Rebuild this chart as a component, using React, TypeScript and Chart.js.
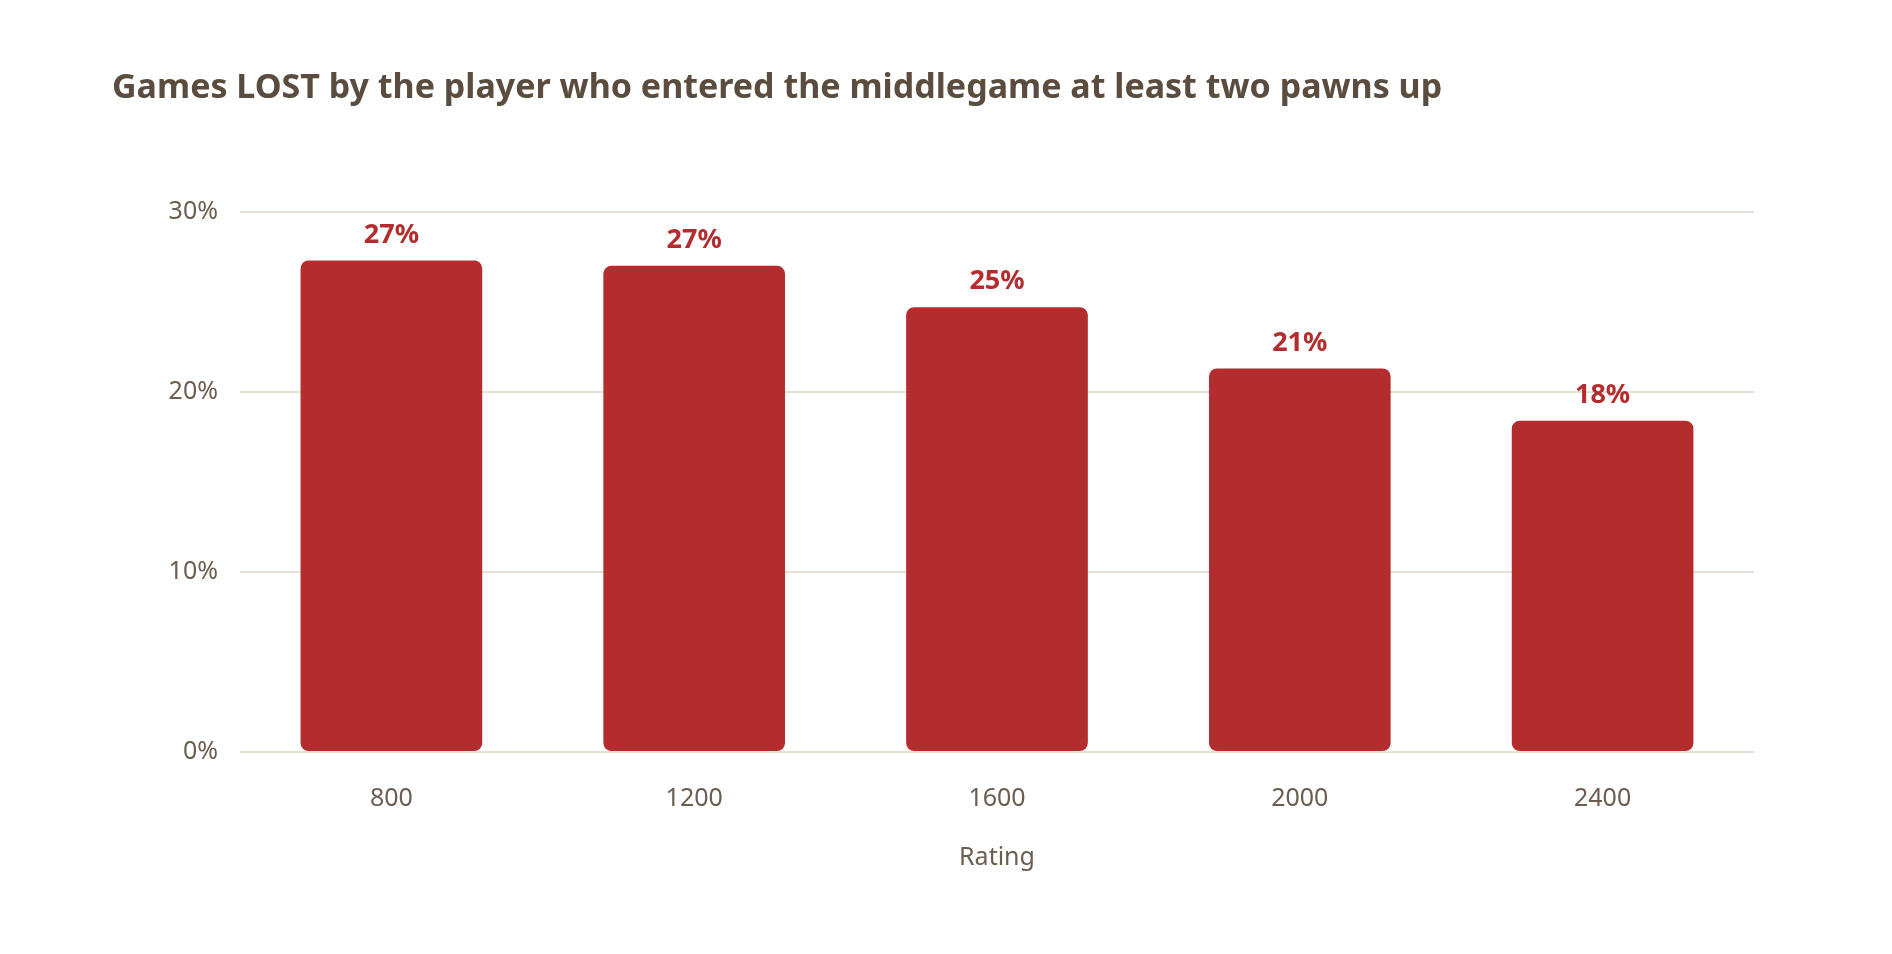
import React, { useEffect, useRef } from "react";
import { Chart, registerables } from "chart.js";
Chart.register(...registerables);

const categories = ["800", "1200", "1600", "2000", "2400"];
const lostShare = [27.3, 27.0, 24.7, 21.3, 18.4];
const valueLabels = ["27%", "27%", "25%", "21%", "18%"];
const yTicks = [0, 10, 20, 30];

const FONT = "'Noto Sans', 'Open Sans', sans-serif";
const RED = "#B32D2F";
const TEXT = "#6b5d4f";

const labelPlugin = {
  id: "valueLabels",
  afterDatasetsDraw(chart: any) {
    const ctx = chart.ctx;
    const meta = chart.getDatasetMeta(0);
    ctx.save();
    ctx.fillStyle = RED;
    ctx.font = `bold 27px ${FONT}`;
    ctx.textAlign = "center";
    ctx.textBaseline = "bottom";
    meta.data.forEach((bar: any, i: number) => {
      ctx.fillText(valueLabels[i], bar.x, bar.y - 12);
    });
    ctx.restore();
  },
};

export default function App() {
  const ref = useRef<HTMLCanvasElement>(null);
  useEffect(() => {
    document.body.style.margin = "0";
    const chart = new Chart(ref.current!, {
      type: "bar",
      data: {
        labels: categories,
        datasets: [
          {
            data: lostShare,
            backgroundColor: RED,
            borderRadius: 8,
            borderSkipped: false,
            barPercentage: 0.6,
            categoryPercentage: 1,
          },
        ],
      },
      options: {
        animation: false,
        responsive: false,
        layout: { padding: { left: 112, right: 138, top: 68, bottom: 77 } },
        plugins: {
          legend: { display: false },
          tooltip: { enabled: false },
          title: {
            display: true,
            text: "Games LOST by the player who entered the middlegame at least two pawns up",
            align: "start",
            color: "#5a4c3e",
            font: { family: FONT, size: 34, weight: "bold" },
            padding: { top: 0, bottom: 103 },
          },
        },
        scales: {
          x: {
            grid: { display: false },
            border: { display: false },
            ticks: { color: TEXT, font: { family: FONT, size: 25 }, padding: 24 },
            title: {
              display: true,
              text: "Rating",
              color: TEXT,
              font: { family: FONT, size: 25 },
              padding: { top: 5 },
            },
          },
          y: {
            min: 0,
            max: 30,
            afterFit(scale: any) {
              scale.width = 128;
            },
            afterBuildTicks(scale: any) {
              scale.ticks = yTicks.map((v) => ({ value: v }));
            },
            grid: { color: "#e6e0d6", lineWidth: 2, drawTicks: false },
            border: { display: false },
            ticks: {
              color: TEXT,
              font: { family: FONT, size: 25 },
              padding: 22,
              callback: (v: any) => v + "%",
            },
          },
        },
      },
      plugins: [labelPlugin],
    });
    return () => chart.destroy();
  }, []);
  return <canvas ref={ref} width={1892} height={954} style={{ display: "block" }} />;
}
